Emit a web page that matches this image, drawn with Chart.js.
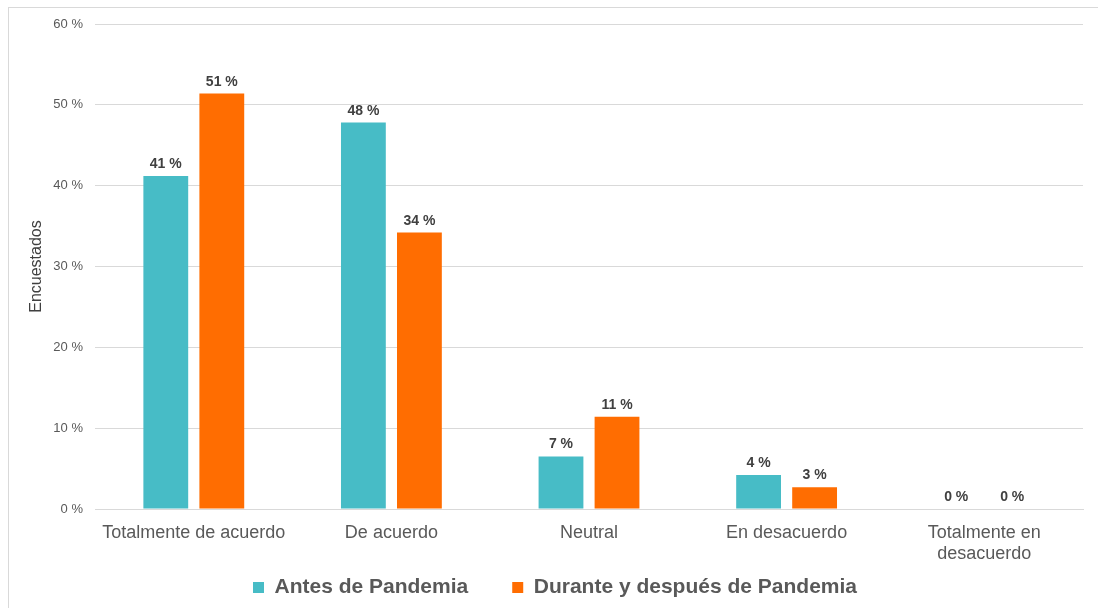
<!DOCTYPE html>
<html>
<head>
<meta charset="utf-8">
<script src="https://cdn.jsdelivr.net/npm/chart.js@4"></script>
<style>
    html, body { margin: 0; padding: 0; background: #fff; }
    #box { position: absolute; left: 0; top: 0; width: 1098px; height: 608px; }
    #frame { position: absolute; left: 8px; top: 7px; width: 1100px; height: 620px; border: 1px solid #d9d9d9; }
</style>
</head>
<body>
<div id="frame"></div>
<div id="box"><canvas id="canvas" width="1098" height="608"></canvas></div>
<script>
const categorias = ["Totalmente de acuerdo", "De acuerdo", "Neutral", "En desacuerdo", ["Totalmente en", "desacuerdo"]];
const antes = [41.2, 47.8, 6.5, 4.2, 0];
const durante = [51.4, 34.2, 11.4, 2.7, 0];
const yTicks = [0, 10, 20, 30, 40, 50, 60];

Chart.defaults.font.family = "'Liberation Sans', Arial, sans-serif";

// etiquetas encima de cada barra
const etiquetas = {
    id: "etiquetas",
    afterDatasetsDraw(chart) {
        const ctx = chart.ctx;
        ctx.save();
        ctx.font = "bold 14px 'Liberation Sans', Arial, sans-serif";
        ctx.fillStyle = "#404040";
        ctx.textAlign = "center";
        ctx.textBaseline = "alphabetic";
        chart.data.datasets.forEach((ds, i) => {
            chart.getDatasetMeta(i).data.forEach((bar, j) => {
                ctx.fillText(Math.round(ds.data[j]) + " %", bar.x, bar.y - 8);
            });
        });
        ctx.restore();
    }
};

let ctx = document.getElementById("canvas").getContext("2d");

new Chart(ctx, {
    type: "bar",
    data: {
        labels: categorias,
        datasets: [
            {
                label: "Antes de Pandemia",
                data: antes,
                backgroundColor: "#47bcc6",
            },
            {
                label: "Durante y después de Pandemia",
                data: durante,
                backgroundColor: "#ff6d01",
            }
        ]
    },
    options: {
        responsive: false,
        animation: false,
        categoryPercentage: 0.567,
        barPercentage: 0.8,
        layout: { padding: { left: 27, right: 15, top: 24, bottom: 0 } },
        plugins: {
            tooltip: { enabled: false },
            legend: {
                position: "bottom",
                labels: {
                    boxWidth: 11,
                    boxHeight: 11,
                    padding: 44,
                    color: "#595959",
                    font: { size: 21, weight: "bold" }
                }
            }
        },
        scales: {
            x: {
                // caja baja para que la leyenda quede cerca; etiquetas sin recorte
                afterFit: (s) => {
                    s.height = 24;
                    s._computeLabelArea = () => undefined;
                },
                grid: { display: false, drawTicks: false },
                border: { color: "#d9d9d9" },
                ticks: { color: "#595959", font: { size: 18 }, padding: 13, maxRotation: 0 }
            },
            y: {
                min: 0,
                max: 60,
                afterFit: (s) => { s.width = 68; },
                afterBuildTicks: (s) => { s.ticks = yTicks.map(v => ({ value: v })); },
                grid: { color: "#d9d9d9", drawTicks: false },
                border: { display: false },
                ticks: {
                    color: "#595959",
                    font: { size: 13 },
                    padding: 12,
                    callback: (v) => v + " %"
                },
                title: {
                    display: true,
                    text: "Encuestados",
                    color: "#404040",
                    font: { size: 16 },
                    padding: { top: 0, bottom: 0 }
                }
            }
        }
    },
    plugins: [etiquetas]
});
</script>
</body>
</html>
